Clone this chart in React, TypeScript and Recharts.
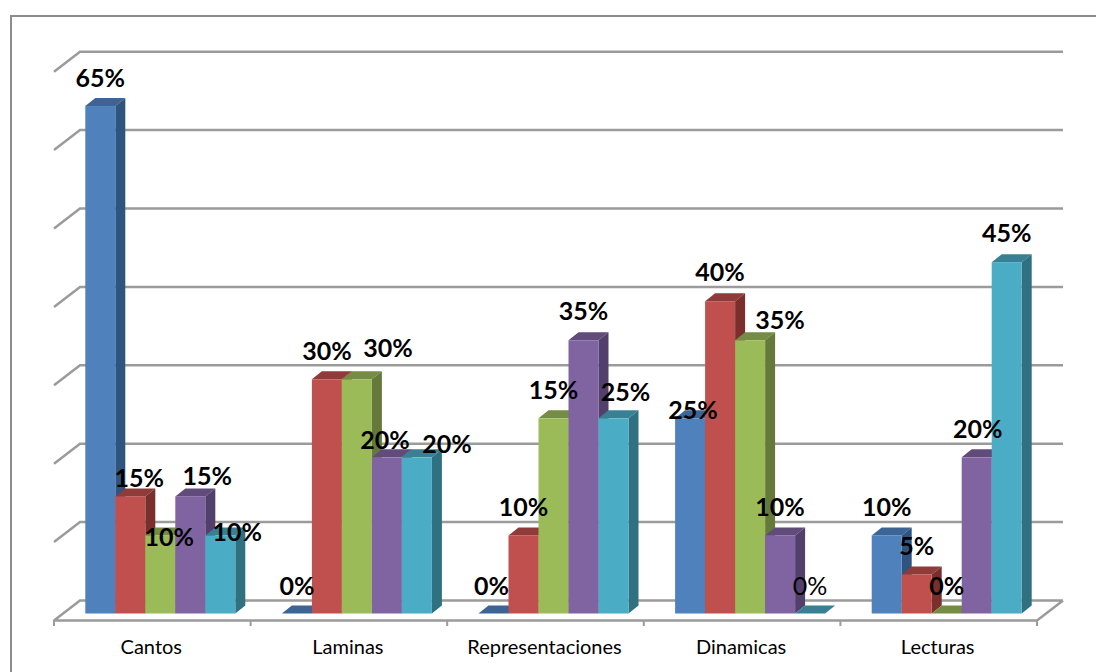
import React from 'react';
import { BarChart, Bar, XAxis, YAxis, CartesianGrid, LabelList } from 'recharts';

const categories = ['Cantos', 'Laminas', 'Representaciones', 'Dinamicas', 'Lecturas'];

const serieA = [65, 0, 0, 25, 10];
const serieB = [15, 30, 10, 40, 5];
const serieC = [10, 30, 25, 35, 0];
const serieD = [15, 20, 35, 10, 20];
const serieE = [10, 20, 25, 0, 45];

// what the labels say (one of them does not agree with its bar in the original)
const labelsA = ['65%', '0%', '0%', '25%', '10%'];
const labelsB = ['15%', '30%', '10%', '40%', '5%'];
const labelsC = ['10%', '30%', '15%', '35%', '0%'];
const labelsD = ['15%', '20%', '35%', '10%', '20%'];
const labelsE = ['10%', '20%', '25%', '0%', '45%'];

const yTicks = [0, 10, 20, 30, 40, 50, 60, 70];

const data = categories.map((name, i) => ({
  name,
  a: serieA[i],
  b: serieB[i],
  c: serieC[i],
  d: serieD[i],
  e: serieE[i],
}));

// label nudges from the bar top centre, [dx, dy] per category
const nudges: Record<string, number[][]> = {
  a: [[0, -28], [0, -28], [-2, -28], [3, -8], [0, -28]],
  b: [[9, -18], [0, -28], [0, -28], [0, -29], [0, -28]],
  c: [[9, 2], [31, -31], [0, -28], [30, -20], [0, -28]],
  d: [[17, -20], [-2, -17], [0, -29], [0, -28], [1, -28]],
  e: [[17, -3], [30, -13], [12, -26], [0, -28], [0, -29]],
};

const series = [
  { key: 'a', labels: labelsA, front: '#4f81bd', top: '#3c6494', side: '#2f5480' },
  { key: 'b', labels: labelsB, front: '#c0504d', top: '#8f3b39', side: '#7a2f2d' },
  { key: 'c', labels: labelsC, front: '#9bbb59', top: '#748c43', side: '#657a3a' },
  { key: 'd', labels: labelsD, front: '#8064a2', top: '#604b7a', side: '#533f6b' },
  { key: 'e', labels: labelsE, front: '#4bacc6', top: '#388195', side: '#2f7081' },
];

const BAR_SHIFT = 8.5;
const DEPTH = 10;
const RISE = 8;
const BASE_Y = 613.5;
const FONT = 'Lato, "Open Sans", sans-serif';

function Bar3D(props: any) {
  const { x, y, width, height, front, top, side } = props;
  const l = x + BAR_SHIFT;
  const r = l + width;
  const b = y + height;
  return (
    <g>
      <polygon points={`${l},${y} ${l + DEPTH},${y - RISE} ${r + DEPTH},${y - RISE} ${r},${y}`} fill={top} />
      <polygon points={`${r},${y} ${r + DEPTH},${y - RISE} ${r + DEPTH},${b - RISE} ${r},${b}`} fill={side} />
      <rect x={l} y={y} width={width} height={height} fill={front} />
    </g>
  );
}

function gridLine(props: any) {
  const { x1, x2, y1, index, key } = props;
  // back wall sits a little higher than the front of the bars
  const back = 600.5 - (BASE_Y - y1) * 1.0042;
  const isFloor = Math.abs(y1 - BASE_Y) < 1;
  let d = `M${x1},${back + 20} L${x1 + 26},${back} L${x2 + 26},${back}`;
  if (isFloor) d += ` M${x1},${back + 20} L${x2},${back + 20} L${x2 + 26},${back}`;
  return <path key={key ?? index} d={d} fill="none" stroke="#9b9b9b" strokeWidth={2.5} />;
}

function CategoryTick(props: any) {
  const { x, payload, index } = props;
  const half = 196.6 / 2;
  return (
    <g>
      <line x1={x - half} x2={x - half} y1={620} y2={626} stroke="#9b9b9b" strokeWidth={2} />
      {index === categories.length - 1 && (
        <line x1={x + half} x2={x + half} y1={620} y2={626} stroke="#9b9b9b" strokeWidth={2} />
      )}
      <text x={x - 1} y={654} textAnchor="middle" fontFamily={FONT} fontSize={20} fill="#000">
        {payload.value}
      </text>
    </g>
  );
}

function makeLabel(s: { key: string; labels: string[] }) {
  return function BarLabel(props: any) {
    const { x, y, width, index } = props;
    const [dx, dy] = nudges[s.key][index];
    const plain = s.key === 'e' && index === 3;
    return (
      <text
        x={x + BAR_SHIFT + width / 2 + dx}
        y={y + dy + 9}
        textAnchor="middle"
        fontFamily={FONT}
        fontSize={25}
        fontWeight={plain ? 400 : 700}
        fill="#000"
      >
        {s.labels[index]}
      </text>
    );
  };
}

export default function App() {
  return (
    <div style={{ position: 'absolute', left: 0, top: 0, width: 1096, height: 672, background: '#fff', overflow: 'hidden' }}>
      <div style={{ position: 'absolute', left: 10, top: 15, width: 1200, height: 700, border: '2px solid #8c8c8c' }} />
      <div style={{ position: 'absolute', left: 0, top: 0 }}>
        <BarChart
          width={1096}
          height={672}
          data={data}
          margin={{ top: 67, right: 59, bottom: 0, left: 54 }}
          barCategoryGap={22.8}
          barGap={0}
        >
          <CartesianGrid vertical={false} horizontal={gridLine} />
          <XAxis dataKey="name" height={58.5} axisLine={false} tickLine={false} tick={CategoryTick} interval={0} />
          <XAxis dataKey="name" xAxisId="labels" hide />
          <YAxis hide domain={[0, 70]} ticks={yTicks} />
          {series.map((s) => (
            <Bar
              key={s.key}
              dataKey={s.key}
              isAnimationActive={false}
              shape={(p: any) => <Bar3D {...p} front={s.front} top={s.top} side={s.side} />}
            />
          ))}
          {series.map((s) => (
            <Bar key={s.key + '-label'} dataKey={s.key} xAxisId="labels" isAnimationActive={false} shape={() => <g />}>
              <LabelList dataKey={s.key} content={makeLabel(s)} />
            </Bar>
          ))}
        </BarChart>
      </div>
    </div>
  );
}
